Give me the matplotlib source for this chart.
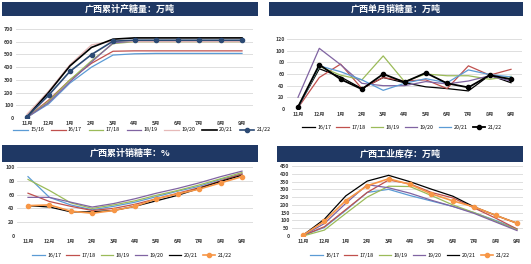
import matplotlib
matplotlib.use("Agg")
import matplotlib.pyplot as plt
from matplotlib.patches import Rectangle

plt.rcParams['font.family'] = ['Noto Sans CJK SC', 'DejaVu Sans']

months = ["11月", "12月", "1月", "2月", "3月", "4月", "5月", "6月", "7月", "8月", "9月"]

# Panel 1: 广西累计产糖量
p1_labels = ["15/16", "16/17", "17/18", "18/19", "19/20", "20/21", "21/22"]
p1_1516 = [5, 110, 275, 400, 495, 505, 508, 508, 508, 508, 508]
p1_1617 = [5, 140, 300, 430, 525, 528, 528, 528, 528, 528, 528]
p1_1718 = [5, 130, 300, 450, 585, 600, 600, 600, 600, 600, 600]
p1_1819 = [5, 120, 285, 440, 590, 605, 605, 605, 605, 605, 605]
p1_1920 = [30, 210, 420, 575, 605, 600, 600, 600, 600, 600, 600]
p1_2021 = [10, 200, 410, 555, 620, 630, 630, 630, 630, 630, 630]
p1_2122 = [10, 178, 367, 499, 604, 612, 612, 612, 612, 612, 612]

# Panel 2: 广西单月销糖量
p2_labels = ["16/17", "17/18", "18/19", "19/20", "20/21", "21/22"]
p2_1617 = [3, 69, 55, 35, 54, 45, 38, 35, 31, 58, 45]
p2_1718 = [2, 54, 77, 35, 54, 48, 50, 35, 74, 58, 68]
p2_1819 = [3, 73, 58, 50, 91, 47, 60, 57, 57, 51, 56]
p2_1920 = [20, 104, 76, 44, 40, 40, 47, 43, 48, 57, 48]
p2_2021 = [2, 74, 64, 50, 32, 44, 52, 45, 67, 59, 55]
p2_2122 = [3.5, 76, 51, 34, 60, 46, 62, 44, 37, 58, 51]

# Panel 3: 广西累计销糖率
p3_labels = ["16/17", "17/18", "18/19", "19/20", "20/21", "21/22"]
p3_1617 = [86, 56, 45, 38, 43, 49, 57, 65, 72, 82, 90]
p3_1718 = [62, 50, 43, 37, 40, 46, 54, 62, 70, 80, 90]
p3_1819 = [82, 66, 48, 40, 45, 51, 59, 66, 74, 83, 92]
p3_1920 = [56, 56, 49, 42, 47, 54, 62, 69, 77, 86, 94]
p3_2021 = [44, 42, 35, 35, 37, 43, 51, 59, 69, 79, 88]
p3_2122 = [44, 45, 36, 33, 37, 43, 54, 61, 68, 77, 86]

# Panel 4: 广西工业库存
p4_labels = ["16/17", "17/18", "18/19", "19/20", "20/21", "21/22"]
p4_1617 = [3, 55, 165, 280, 300, 260, 225, 190, 150, 100, 45]
p4_1718 = [3, 60, 170, 280, 360, 335, 280, 245, 180, 115, 45]
p4_1819 = [0, 38, 145, 250, 320, 318, 260, 200, 150, 95, 40]
p4_1920 = [3, 80, 210, 330, 310, 275, 230, 190, 145, 90, 35]
p4_2021 = [5, 108, 258, 353, 390, 349, 301, 256, 187, 133, 82]
p4_2122 = [5, 95, 228, 323, 368, 332, 271, 226, 187, 133, 82]

BLUE = "#5b9bd5"
RED = "#c0504d"
GREEN = "#9bbb59"
PURPLE = "#8064a2"
PINK = "#e6b9b8"
BLACK = "#000000"
NAVY = "#2c4a74"
ORANGE = "#f79646"
BANNER = "#1f3864"

W, H = 531, 264
fig = plt.figure(figsize=(W / 100, H / 100), dpi=100)
fig.patch.set_facecolor("white")


def fx(px):
    return px / W


def fy(py):
    return 1 - py / H


def add_ax(x0, x1, ytop, ybot):
    return fig.add_axes([fx(x0), fy(ybot), fx(x1) - fx(x0), fy(ytop) - fy(ybot)])


def banner(x0, x1, y0, y1, text):
    fig.patches.append(Rectangle((fx(x0), fy(y1)), fx(x1) - fx(x0), fy(y0) - fy(y1),
                                 transform=fig.transFigure, facecolor=BANNER,
                                 edgecolor="none", zorder=0))
    fig.text(fx((x0 + x1) / 2), fy((y0 + y1) / 2), text, color="white",
             fontsize=6.5, fontweight="bold", ha="center", va="center")


def style(ax, ymax, ystep, xmax=10.5):
    ax.set_xlim(-0.5, xmax)
    ax.set_ylim(0, ymax)
    ax.set_yticks(range(0, ymax + 1, ystep))
    ax.set_xticks(range(len(months)))
    ax.set_xticklabels(months)
    for s in ax.spines.values():
        s.set_visible(False)
    ax.grid(axis="y", color="#d9d9d9", linewidth=0.6)
    ax.set_axisbelow(True)
    ax.tick_params(length=0, labelsize=3.8, pad=2, colors="#404040")
    for t in ax.get_xticklabels() + ax.get_yticklabels():
        t.set_fontweight("bold")
    ax.patch.set_alpha(0)


def legend(ax, cx, cy, ncol, hl, cs):
    ax.legend(loc="center", bbox_to_anchor=(fx(cx), fy(cy)), bbox_transform=fig.transFigure,
              ncol=ncol, frameon=False, fontsize=3.8, handlelength=hl, columnspacing=cs,
              handletextpad=0.4, borderaxespad=0, borderpad=0)


x = list(range(len(months)))
lw = 0.9

# Panel 1
banner(2, 258, 2, 16, "广西累计产糖量：万吨")
ax1 = add_ax(16.25, 252.75, 29, 118)
for ys, c, lab in zip([p1_1516, p1_1617, p1_1718, p1_1819, p1_1920, p1_2021],
                      [BLUE, RED, GREEN, PURPLE, PINK, BLACK], p1_labels[:6]):
    ax1.plot(x, ys, color=c, lw=lw if c != BLACK else 1.2, label=lab)
ax1.plot(x, p1_2122, color=NAVY, lw=1.2, marker="o", ms=3, label=p1_labels[6])
style(ax1, 700, 100)
legend(ax1, 142, 130, 7, 2.8, 1.3)

# Panel 2
banner(269, 523, 2, 16, "广西单月销糖量：万吨")
ax2 = add_ax(287.35, 521.65, 39, 109)
for ys, c, lab in zip([p2_1617, p2_1718, p2_1819, p2_1920, p2_2021],
                      [BLACK, RED, GREEN, PURPLE, BLUE], p2_labels[:5]):
    ax2.plot(x, ys, color=c, lw=lw, label=lab)
ax2.plot(x, p2_2122, color=BLACK, lw=1.3, marker="o", ms=3, label=p2_labels[5])
style(ax2, 120, 20)
legend(ax2, 402, 127, 6, 2.4, 1.0)

# Panel 3
banner(2, 258, 145, 162, "广西累计销糖率：%")
ax3 = add_ax(17.3, 252.7, 167, 236)
for ys, c, lab in zip([p3_1617, p3_1718, p3_1819, p3_1920, p3_2021],
                      [BLUE, RED, GREEN, PURPLE, BLACK], p3_labels[:5]):
    ax3.plot(x, ys, color=c, lw=lw, label=lab)
ax3.plot(x, p3_2122, color=ORANGE, lw=1.2, marker="o", ms=3, label=p3_labels[5])
style(ax3, 100, 20)
legend(ax3, 132, 255, 6, 2.4, 1.0)

# Panel 4
banner(277, 523, 146, 162, "广西工业库存：万吨")
ax4 = add_ax(292.3, 523, 166, 236)
for ys, c, lab in zip([p4_1617, p4_1718, p4_1819, p4_1920, p4_2021],
                      [BLUE, RED, GREEN, PURPLE, BLACK], p4_labels[:5]):
    ax4.plot(x, ys, color=c, lw=lw, label=lab)
ax4.plot(x, p4_2122, color=ORANGE, lw=1.2, marker="o", ms=3, label=p4_labels[5])
style(ax4, 450, 50, xmax=10.28)
legend(ax4, 410, 255, 6, 2.4, 1.0)

fig.savefig("out.png", dpi=100)
